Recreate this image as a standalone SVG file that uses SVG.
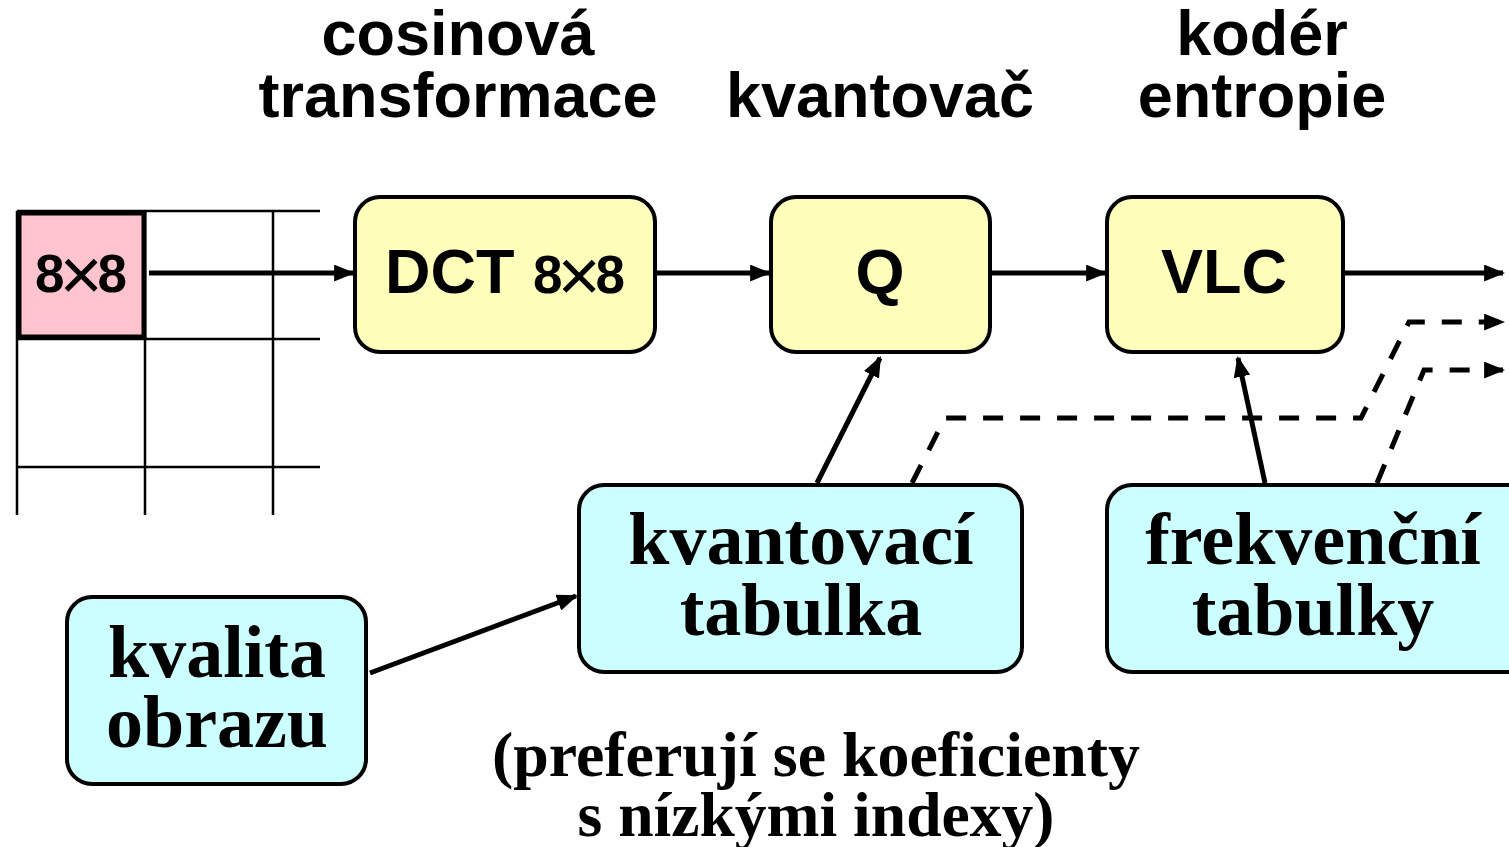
<svg xmlns="http://www.w3.org/2000/svg" width="1509" height="847" viewBox="0 0 1509 847">
<style>
.sans{font-family:"Liberation Sans",Arial,sans-serif;font-weight:bold;fill:#000}
.serif{font-family:"Liberation Serif","Times New Roman",serif;font-weight:bold;fill:#000}
.ybox{fill:#FFFFBB;stroke:#000;stroke-width:4}
.cbox{fill:#CCFFFF;stroke:#000;stroke-width:4}
.grid{stroke:#000;stroke-width:2.5;fill:none}
.conn{stroke:#000;stroke-width:5;fill:none}
.dash{stroke-dasharray:20 17}
.x{font-weight:normal;font-size:74px}
</style>
<defs>
<marker id="ah" viewBox="0 0 20 16" refX="18" refY="8" markerWidth="21" markerHeight="17" markerUnits="userSpaceOnUse" orient="auto">
<path d="M0,0 L20,8 L0,16 Z" fill="#000"/>
</marker>
</defs>
<rect width="1509" height="847" fill="#fff"/>
<g id="titles" class="sans" font-size="63" text-anchor="middle">
<text x="458" y="55">cosinová</text>
<text x="458" y="117">transformace</text>
<text x="880" y="117">kvantovač</text>
<text x="1262" y="55">kodér</text>
<text x="1262" y="117">entropie</text>
</g>
<g id="grid">
<rect x="19" y="213" width="125" height="124" fill="#FFC4CE" stroke="#000" stroke-width="5"/>
<path class="grid" d="M17,211 H320 M17,339 H320 M17,467 H320 M17,211 V515 M145,211 V515 M273,211 V515"/>
<text class="sans" x="35" y="292" font-size="53" textLength="92" lengthAdjust="spacing">8<tspan class="x" dy="8">×</tspan><tspan dy="-8">8</tspan></text>
</g>
<g id="dct">
<rect class="ybox" x="355" y="197" width="300" height="155" rx="25"/>
<text class="sans" x="385" y="293" font-size="63">DCT</text>
<text class="sans" x="533" y="293" font-size="53" textLength="92" lengthAdjust="spacing">8<tspan class="x" dy="8">×</tspan><tspan dy="-8">8</tspan></text>
</g>
<g id="q">
<rect class="ybox" x="771" y="197" width="219" height="155" rx="25"/>
<text class="sans" x="880" y="293" font-size="63" text-anchor="middle">Q</text>
</g>
<g id="vlc">
<rect class="ybox" x="1107" y="197" width="236" height="155" rx="25"/>
<text class="sans" x="1224" y="293" font-size="63" text-anchor="middle">VLC</text>
</g>
<g id="kvtab">
<rect class="cbox" x="579" y="485" width="443" height="187" rx="25"/>
<text class="serif" x="801" y="564" font-size="74" text-anchor="middle">kvantovací</text>
<text class="serif" x="801" y="635" font-size="74" text-anchor="middle">tabulka</text>
</g>
<g id="frtab">
<rect class="cbox" x="1107" y="485" width="430" height="187" rx="25"/>
<text class="serif" x="1313" y="564" font-size="74" text-anchor="middle">frekvenční</text>
<text class="serif" x="1313" y="635" font-size="74" text-anchor="middle">tabulky</text>
</g>
<g id="kvalita">
<rect class="cbox" x="67" y="597" width="299" height="187" rx="25"/>
<text class="serif" x="217" y="677" font-size="74" text-anchor="middle">kvalita</text>
<text class="serif" x="217" y="747" font-size="74" text-anchor="middle">obrazu</text>
</g>
<g id="note" class="serif" font-size="64" text-anchor="middle">
<text x="816" y="776" textLength="648" lengthAdjust="spacingAndGlyphs">(preferují se koeficienty</text>
<text x="816" y="836" textLength="477" lengthAdjust="spacingAndGlyphs">s nízkými indexy)</text>
</g>
<g id="connectors">
<line class="conn" x1="149" y1="273" x2="353" y2="273" marker-end="url(#ah)"/>
<line class="conn" x1="657" y1="273" x2="769" y2="273" marker-end="url(#ah)"/>
<line class="conn" x1="992" y1="273" x2="1105" y2="273" marker-end="url(#ah)"/>
<line class="conn" x1="1345" y1="273" x2="1503" y2="273" marker-end="url(#ah)"/>
<line class="conn" x1="817" y1="483" x2="880" y2="358" marker-end="url(#ah)"/>
<line class="conn" x1="1265" y1="483" x2="1238" y2="358" marker-end="url(#ah)"/>
<line class="conn" x1="370" y1="673" x2="576" y2="596" marker-end="url(#ah)"/>
<path class="conn dash" d="M912,483 L945,418 H1361 L1409,322 H1503" marker-end="url(#ah)"/>
<path class="conn dash" d="M1377,483 L1424,370 H1503" marker-end="url(#ah)"/>
</g>
</svg>
